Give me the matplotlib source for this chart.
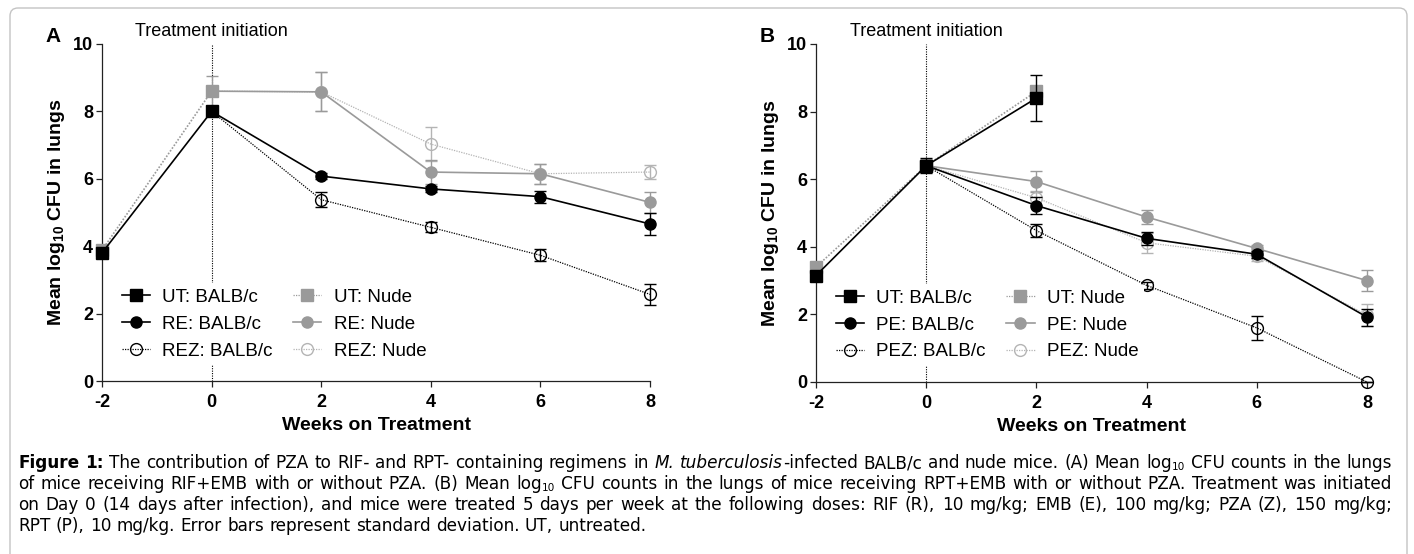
import numpy as np
import matplotlib
matplotlib.use('Agg')
import matplotlib.pyplot as plt
from matplotlib.patches import FancyBboxPatch
from matplotlib.transforms import IdentityTransform

plt.rcParams['font.family'] = ['Liberation Sans', 'DejaVu Sans']
plt.rcParams['mathtext.fontset'] = 'custom'
plt.rcParams['mathtext.bf'] = 'Liberation Sans:bold'
plt.rcParams['mathtext.rm'] = 'Liberation Sans'
plt.rcParams['axes.unicode_minus'] = False

W, H = 1414, 554

# ---- panel A data (weeks, mean log10 CFU, SD)
a_ut_x = [-2, 0]
a_ut_balb = [3.80, 8.00]
a_ut_balb_sd = [0.10, 0.10]
a_ut_nude = [3.88, 8.60]
a_ut_nude_sd = [0.10, 0.45]
a_tx_x = [0, 2, 4, 6, 8]
a_re_balb = [8.00, 6.08, 5.70, 5.47, 4.66]
a_re_balb_sd = [0.0, 0.08, 0.10, 0.18, 0.32]
a_rez_balb = [8.00, 5.38, 4.56, 3.73, 2.57]
a_rez_balb_sd = [0.0, 0.22, 0.15, 0.18, 0.30]
a_re_nude = [8.60, 8.58, 6.20, 6.15, 5.30]
a_re_nude_sd = [0.0, 0.58, 0.35, 0.30, 0.30]
a_rez_nude = [8.60, 8.58, 7.03, 6.15, 6.20]
a_rez_nude_sd = [0.0, 0.58, 0.50, 0.30, 0.22]

# ---- panel B data
b_ut_x = [-2, 0, 2]
b_ut_balb = [3.15, 6.40, 8.40]
b_ut_balb_sd = [0.10, 0.22, 0.68]
b_ut_nude = [3.40, 6.40, 8.60]
b_ut_nude_sd = [0.16, 0.20, 0.15]
b_tx_x = [0, 2, 4, 6, 8]
b_pe_balb = [6.40, 5.22, 4.25, 3.78, 1.92]
b_pe_balb_sd = [0.0, 0.25, 0.20, 0.10, 0.25]
b_pez_balb = [6.40, 4.48, 2.86, 1.60, 0.00]
b_pez_balb_sd = [0.0, 0.20, 0.10, 0.35, 0.0]
b_pe_nude = [6.40, 5.93, 4.88, 3.95, 3.00]
b_pe_nude_sd = [0.0, 0.30, 0.20, 0.10, 0.30]
b_pez_nude = [6.40, 5.45, 4.12, 3.72, 1.98]
b_pez_nude_sd = [0.0, 0.20, 0.30, 0.15, 0.33]

GRAY = '#9a9a9a'
LGRAY = '#b4b4b4'
DOT = (0, (1, 1))


def series(ax, x, y, sd, color, ls, marker, filled, skip_first, lw, z):
    mfc = color if filled else 'none'
    me = slice(1, None) if skip_first else None
    ax.plot(x, y, color=color, ls=ls, lw=lw, marker=marker, markersize=8 if filled else 8.5,
            mfc=mfc, mec=color, mew=1.0, markevery=me, clip_on=False, zorder=z)
    s = 1 if skip_first else 0
    ax.errorbar(x[s:], y[s:], yerr=sd[s:], fmt='none', ecolor=color, elinewidth=1.0,
                capsize=4.5, capthick=1.0, clip_on=False, zorder=z - 0.5)


fig = plt.figure(figsize=(W / 100, H / 100), dpi=100)
axA = fig.add_axes([102 / W, 1 - 381 / H, 548 / W, 337 / H])
axB = fig.add_axes([816 / W, 1 - 382 / H, 551 / W, 338 / H])

# panel A
series(axA, a_tx_x, a_rez_nude, a_rez_nude_sd, LGRAY, DOT, 'o', False, True, 0.9, 3)
series(axA, a_tx_x, a_re_nude, a_re_nude_sd, GRAY, '-', 'o', True, True, 1.2, 3.2)
series(axA, a_tx_x, a_rez_balb, a_rez_balb_sd, 'black', DOT, 'o', False, True, 0.9, 4)
series(axA, a_tx_x, a_re_balb, a_re_balb_sd, 'black', '-', 'o', True, True, 1.2, 4.2)
series(axA, a_ut_x, a_ut_nude, a_ut_nude_sd, GRAY, DOT, 's', True, False, 1.2, 5)
series(axA, a_ut_x, a_ut_balb, a_ut_balb_sd, 'black', '-', 's', True, False, 1.2, 6)
labelsA = [('UT: BALB/c', 'black', '-', 's', True), ('RE: BALB/c', 'black', '-', 'o', True),
           ('REZ: BALB/c', 'black', DOT, 'o', False), ('UT: Nude', GRAY, DOT, 's', True),
           ('RE: Nude', GRAY, '-', 'o', True), ('REZ: Nude', LGRAY, DOT, 'o', False)]

# panel B
series(axB, b_tx_x, b_pez_nude, b_pez_nude_sd, LGRAY, DOT, 'o', False, True, 0.9, 3)
series(axB, b_tx_x, b_pe_nude, b_pe_nude_sd, GRAY, '-', 'o', True, True, 1.2, 3.2)
series(axB, b_tx_x, b_pez_balb, b_pez_balb_sd, 'black', DOT, 'o', False, True, 0.9, 4)
series(axB, b_tx_x, b_pe_balb, b_pe_balb_sd, 'black', '-', 'o', True, True, 1.2, 4.2)
series(axB, b_ut_x, b_ut_nude, b_ut_nude_sd, GRAY, DOT, 's', True, False, 1.2, 5)
series(axB, b_ut_x, b_ut_balb, b_ut_balb_sd, 'black', '-', 's', True, False, 1.2, 6)
labelsB = [('UT: BALB/c', 'black', '-', 's', True), ('PE: BALB/c', 'black', '-', 'o', True),
           ('PEZ: BALB/c', 'black', DOT, 'o', False), ('UT: Nude', GRAY, DOT, 's', True),
           ('PE: Nude', GRAY, '-', 'o', True), ('PEZ: Nude', LGRAY, DOT, 'o', False)]

for ax, labels, letter, lx in [(axA, labelsA, 'A', 53), (axB, labelsB, 'B', 767)]:
    ax.set_xlim(-2, 8)
    ax.set_ylim(0, 10)
    ax.set_xticks([-2, 0, 2, 4, 6, 8])
    ax.set_yticks([0, 2, 4, 6, 8, 10])
    for s in ['top', 'right']:
        ax.spines[s].set_visible(False)
    for s in ['left', 'bottom']:
        ax.spines[s].set_linewidth(0.9)
        ax.spines[s].set_color('#222222')
    ax.tick_params(direction='out', length=4.5, width=0.9, color='#222222', labelsize=13, pad=2)
    ax.tick_params(axis='x', pad=5)
    for t in ax.get_xticklabels() + ax.get_yticklabels():
        t.set_fontweight('bold')
    ax.axvline(0, color='black', ls=(0, (1, 1.2)), lw=0.8, zorder=1)
    ax.text(0, 10.38, 'Treatment initiation', ha='center', va='center', fontsize=13)
    ax.set_xlabel('Weeks on Treatment', fontsize=14, fontweight='bold')
    ax.set_ylabel(r'Mean log$_{\mathbf{10}}$ CFU in lungs', fontsize=14, fontweight='bold')
    ax.xaxis.set_label_coords(0.5, -0.107)
    ax.yaxis.set_label_coords(-0.064, 0.5)
    handles = []
    for lab, c, ls, m, f in labels:
        h, = ax.plot([], [], color=c, ls=ls, lw=1.2 if ls == '-' else 0.9, marker=m,
                     markersize=8 if f else 8.5, mfc=c if f else 'none', mec=c, mew=1.0)
        handles.append(h)
    leg = ax.legend(handles, [l[0] for l in labels], ncol=2, loc='upper left',
                    bbox_to_anchor=(0.026, 0.29), fontsize=13.5, frameon=True,
                    handlelength=1.5, handletextpad=0.65, columnspacing=1.1,
                    labelspacing=0.52, borderpad=0.3, borderaxespad=0)
    leg.get_frame().set_edgecolor('none')
    leg.get_frame().set_facecolor('white')
    leg.get_frame().set_alpha(1)
    leg.set_zorder(8)
    fig.text(lx / W, 1 - 36 / H, letter, fontsize=15, fontweight='bold', ha='center', va='center')

# frame
fig.add_artist(FancyBboxPatch((10, -20), 1397, H - 8 + 20,
                              boxstyle='round,pad=0,rounding_size=8', transform=IdentityTransform(),
                              fill=False, ec='#c4c4c4', lw=1.0))

# caption, justified
cap_lines = [
    "b:Figure b:1: The contribution of PZA to RIF- and RPT- containing regimens in i:M. "
    "i:tuberculosis|-infected BALB/c and nude mice. (A) Mean log|s:10 CFU counts in the lungs",
    "of mice receiving RIF+EMB with or without PZA. (B) Mean log|s:10 CFU counts in the lungs "
    "of mice receiving RPT+EMB with or without PZA. Treatment was initiated",
    "on Day 0 (14 days after infection), and mice were treated 5 days per week at the following "
    "doses: RIF (R), 10 mg/kg; EMB (E), 100 mg/kg; PZA (Z), 150 mg/kg;",
    "RPT (P), 10 mg/kg. Error bars represent standard deviation. UT, untreated.",
]
cap_y = [463, 484, 505, 526]
cap_fs = 12.2
cap_font = ['DejaVu Sans']
renderer = fig.canvas.get_renderer()


def make_text(txt, st, y):
    kw = dict(fontsize=cap_fs, va='center', ha='left', family=cap_font)
    yy = y
    if st == 'b':
        kw['fontweight'] = 'bold'
    elif st == 'i':
        kw['fontstyle'] = 'italic'
    elif st == 's':
        kw['fontsize'] = cap_fs * 0.62
        yy = y + 4
    return fig.text(0, 1 - yy / H, txt, **kw)


probe1 = fig.text(0, 0, 'a a', fontsize=cap_fs, family=cap_font)
probe2 = fig.text(0, 0, 'aa', fontsize=cap_fs, family=cap_font)
space_w = probe1.get_window_extent(renderer).width - probe2.get_window_extent(renderer).width
probe1.remove()
probe2.remove()

x0, x1 = 18, 1392
for i, (line, y) in enumerate(zip(cap_lines, cap_y)):
    words = []
    for w in line.split(' '):
        segs = []
        for seg in w.split('|'):
            if seg[:2] in ('b:', 'i:', 's:'):
                t = make_text(seg[2:], seg[0], y)
            else:
                t = make_text(seg, 'n', y)
            segs.append((t, t.get_window_extent(renderer).width))
        words.append(segs)
    wsum = sum(sum(w for _, w in ws) for ws in words)
    gap = (x1 - x0 - wsum) / (len(words) - 1) if i < len(cap_lines) - 1 else space_w
    x = x0
    for ws in words:
        for t, w in ws:
            t.set_x(x / W)
            x += w
        x += gap

fig.savefig('out.png', dpi=100)
